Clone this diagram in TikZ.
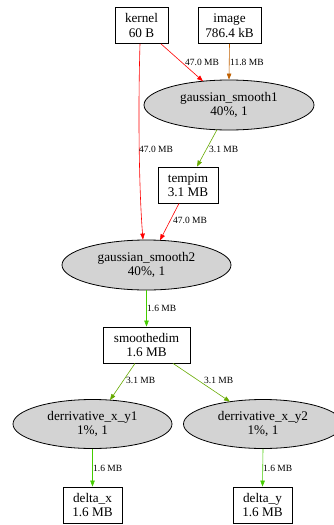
\documentclass[tikz,border=0pt]{standalone}
\usepackage{fontspec}
\setmainfont{Liberation Serif}
\usetikzlibrary{shapes.geometric,arrows.meta,calc}
\definecolor{opgray}{HTML}{D3D3D3}
\definecolor{edgered}{HTML}{FF0000}
\definecolor{edgeorange}{HTML}{C06000}
\definecolor{edgeolive}{HTML}{66AA00}
\definecolor{edgegreen}{HTML}{44CC00}
\begin{document}
\begin{tikzpicture}[x=1pt,y=-1pt,
  box/.style={draw, line width=0.8pt, rectangle, minimum height=36, inner sep=0,
    align=center, font=\fontsize{13.2}{14.5}\selectfont},
  op/.style={draw, line width=0.8pt, ellipse, fill=opgray, inner sep=0,
    align=center, font=\fontsize{13.2}{14.5}\selectfont},
  lbl/.style={font=\fontsize{9.5}{11}\selectfont, anchor=west, inner sep=0},
  flow/.style={line width=0.6pt, -{Triangle[length=6pt,width=4.5pt]}},
]
\useasboundingbox (0,0) rectangle (334,525);

% data buffers
\node[box, minimum width=53] (kernel) at (141.5,25.5) {kernel\\60 B};
\node[box, minimum width=63] (image) at (229.5,25.5) {image\\786.4 kB};
\node[box, minimum width=60] (tempim) at (188,185) {tempim\\3.1 MB};
\node[box, minimum width=87] (smoothedim) at (146.5,345) {smoothedim\\1.6 MB};
\node[box, minimum width=59] (deltax) at (92.5,505) {delta\_x\\1.6 MB};
\node[box, minimum width=59] (deltay) at (262.5,505) {delta\_y\\1.6 MB};

% kernels
\node[op, minimum width=170, minimum height=50] (gs1) at (229,105) {gaussian\_smooth1\\40\%, 1};
\node[op, minimum width=169, minimum height=50] (gs2) at (146.5,265) {gaussian\_smooth2\\40\%, 1};
\node[op, minimum width=159, minimum height=49] (dx1) at (92.5,424) {derrivative\_x\_y1\\1\%, 1};
\node[op, minimum width=159, minimum height=49] (dx2) at (263,424) {derrivative\_x\_y2\\1\%, 1};

% transfers
\draw[flow, edgered] ($(kernel.south)+(19.5,0)$) -- ($(gs1.center)+(-26,-23.8)$);
\draw[flow, edgeorange] (image.south) -- (gs1.north);
\draw[flow, edgered] ($(kernel.south)+(-1.5,0)$) .. controls (138,110) and (139,190) .. ($(gs2.north)+(-3.5,0)$);
\draw[flow, edgeolive] ($(gs1.center)+(-12,24.7)$) -- ($(tempim.north)+(9,0)$);
\draw[flow, edgered] ($(tempim.south)+(-9,0)$) -- ($(gs2.center)+(13.5,-24.7)$);
\draw[flow, edgegreen] (gs2.south) -- (smoothedim.north);
\draw[flow, edgeolive] ($(smoothedim.south)+(-11.5,0)$) -- ($(dx1.center)+(17.5,-23.9)$);
\draw[flow, edgeolive] ($(smoothedim.south)+(26.5,0)$) -- ($(dx2.center)+(-33,-22.3)$);
\draw[flow, edgegreen] ($(dx1.south)$) -- ($(deltax.north)$);
\draw[flow, edgegreen] ($(dx2.south)$) -- ($(deltay.north)$);

% transfer sizes
\node[lbl] (l1) at (185,62) {47.0 MB};
\node[lbl] (l2) at (230,62) {11.8 MB};
\node[lbl] (l3) at (139,149) {47.0 MB};
\node[lbl] (l4) at (209,149) {3.1 MB};
\node[lbl] (l5) at (173,220) {47.0 MB};
\node[lbl] (l6) at (147,308) {1.6 MB};
\node[lbl] (l7) at (126,380) {3.1 MB};
\node[lbl] (l8) at (204,380) {3.1 MB};
\node[lbl] (l9) at (93,468) {1.6 MB};
\node[lbl] (l10) at (263,468) {1.6 MB};
\end{tikzpicture}
\end{document}
